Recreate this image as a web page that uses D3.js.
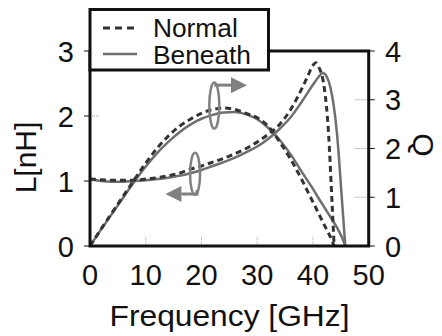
<!DOCTYPE html>
<html>
<head>
<meta charset="utf-8">
<script src="https://cdn.jsdelivr.net/npm/d3@7"></script>
<style>
  body { margin: 0; background: #fff; }
  svg { font-family: "Liberation Sans", Arial, sans-serif; }
</style>
</head>
<body>
<svg id="chart" width="442" height="336"></svg>
<script>
// data
var freqNormal = [0, 2, 4, 6, 8, 10, 12, 14, 16, 18, 20, 22, 24, 26, 28, 30, 32, 34, 36, 38, 39, 40, 40.5, 41, 42, 42.8, 43.4, 43.8];
var lNormal = [1.03, 1.02, 1.01, 1.01, 1.01, 1.03, 1.05, 1.08, 1.12, 1.18, 1.23, 1.29, 1.35, 1.42, 1.50, 1.60, 1.72, 1.87, 2.10, 2.42, 2.60, 2.78, 2.82, 2.76, 2.45, 1.73, 0.71, 0];
var qNormal = [0, 0.35, 0.69, 1.03, 1.37, 1.70, 2.00, 2.25, 2.45, 2.60, 2.72, 2.80, 2.83, 2.80, 2.72, 2.63, 2.45, 2.14, 1.78, 1.36, 1.13, 0.90, 0.79, 0.67, 0.44, 0.26, 0.12, 0];

var freqBeneath = [0, 2, 4, 6, 8, 10, 12, 14, 16, 18, 20, 22, 24, 26, 28, 30, 32, 34, 36, 38, 40, 41, 41.8, 42.5, 43.1, 44.3, 45.2, 45.8];
var lBeneath = [1.03, 1.00, 0.99, 0.99, 1.00, 1.01, 1.03, 1.05, 1.08, 1.12, 1.17, 1.23, 1.29, 1.36, 1.44, 1.53, 1.65, 1.80, 1.98, 2.22, 2.48, 2.60, 2.66, 2.60, 2.45, 1.74, 0.71, 0];
var qBeneath = [0, 0.34, 0.67, 1.00, 1.33, 1.63, 1.90, 2.13, 2.33, 2.49, 2.61, 2.69, 2.74, 2.75, 2.70, 2.60, 2.42, 2.18, 1.88, 1.52, 1.17, 0.98, 0.84, 0.71, 0.60, 0.38, 0.18, 0];

var xTicks = [0, 10, 20, 30, 40, 50];
var lTicks = [0, 1, 2, 3];
var qTicks = [0, 1, 2, 3, 4];
var legendLabels = ["Normal", "Beneath"];

drawChart();

function drawChart() {
    var svg = d3.select("#chart"),
        plot = {left: 90, right: 368.7, top: 51, bottom: 246};

    var x = d3.scaleLinear().domain([0, 50]).range([plot.left, plot.right]),
        yL = d3.scaleLinear().domain([0, 3]).range([plot.bottom, plot.top]),
        yQ = d3.scaleLinear().domain([0, 4]).range([plot.bottom, plot.top]);

    var lineL = d3.line()
        .x(function(d) { return x(d[0]); })
        .y(function(d) { return yL(d[1]); })
        .curve(d3.curveMonotoneX);
    var lineQ = d3.line()
        .x(function(d) { return x(d[0]); })
        .y(function(d) { return yQ(d[1]); })
        .curve(d3.curveMonotoneX);

    function zip(a, b) { return a.map(function(v, i) { return [v, b[i]]; }); }

    var gray = "#6f6f6f", dark = "#333", annot = "#808080";

    // inner dotted tick marks
    svg.append("g").selectAll("line")
        .data(lTicks.filter(function(t) { return t > 0 && t < 3; }))
        .enter().append("line")
        .attr("x1", plot.left).attr("x2", plot.left + 10)
        .attr("y1", function(d) { return yL(d); }).attr("y2", function(d) { return yL(d); })
        .attr("stroke", "#999").attr("stroke-width", 1).attr("stroke-dasharray", "1,1");
    svg.append("g").selectAll("line")
        .data(qTicks.filter(function(t) { return t > 0 && t < 4; }))
        .enter().append("line")
        .attr("x1", plot.right - 14).attr("x2", plot.right)
        .attr("y1", function(d) { return yQ(d); }).attr("y2", function(d) { return yQ(d); })
        .attr("stroke", "#999").attr("stroke-width", 1).attr("stroke-dasharray", "1,1");
    svg.append("g").selectAll("line")
        .data(xTicks.filter(function(t) { return t > 0 && t < 50; }))
        .enter().append("line")
        .attr("x1", function(d) { return x(d); }).attr("x2", function(d) { return x(d); })
        .attr("y1", plot.bottom).attr("y2", plot.bottom - 9)
        .attr("stroke", "#aaa").attr("stroke-width", 1).attr("stroke-dasharray", "1,1");

    // curves
    svg.append("path").datum(zip(freqBeneath, lBeneath)).attr("d", lineL)
        .attr("fill", "none").attr("stroke", gray).attr("stroke-width", 2.5);
    svg.append("path").datum(zip(freqBeneath, qBeneath)).attr("d", lineQ)
        .attr("fill", "none").attr("stroke", gray).attr("stroke-width", 2.5);
    svg.append("path").datum(zip(freqNormal, lNormal)).attr("d", lineL)
        .attr("fill", "none").attr("stroke", dark).attr("stroke-width", 3).attr("stroke-dasharray", "6,4");
    svg.append("path").datum(zip(freqNormal, qNormal)).attr("d", lineQ)
        .attr("fill", "none").attr("stroke", dark).attr("stroke-width", 3).attr("stroke-dasharray", "6,4");

    // annotations: ellipses and arrows
    var defs = svg.append("defs");
    defs.append("marker").attr("id", "head")
        .attr("viewBox", "0 0 10 10").attr("refX", 0).attr("refY", 5)
        .attr("markerUnits", "userSpaceOnUse")
        .attr("markerWidth", 24).attr("markerHeight", 16)
        .attr("orient", "auto")
      .append("path").attr("d", "M0,0L10,5L0,10Z").attr("fill", annot);

    svg.append("ellipse").attr("cx", x(22.3)).attr("cy", yQ(2.88)).attr("rx", 5).attr("ry", 23)
        .attr("fill", "none").attr("stroke", annot).attr("stroke-width", 2.5);
    svg.append("line").attr("x1", x(22.3)).attr("x2", x(25.3))
        .attr("y1", yQ(3.3)).attr("y2", yQ(3.3))
        .attr("stroke", annot).attr("stroke-width", 3).attr("marker-end", "url(#head)");

    svg.append("ellipse").attr("cx", x(18.85)).attr("cy", yL(1.11)).attr("rx", 5).attr("ry", 21)
        .attr("fill", "none").attr("stroke", annot).attr("stroke-width", 2.5);
    svg.append("path")
        .attr("d", "M" + x(19.2) + "," + yL(0.86) + "V" + yL(0.8) + "H" + x(16.4))
        .attr("fill", "none").attr("stroke", annot).attr("stroke-width", 3).attr("marker-end", "url(#head)");

    // frame
    svg.append("path")
        .attr("d", "M" + plot.left + "," + plot.top + "V" + plot.bottom + "H" + plot.right + "V" + plot.top + "H" + plot.left)
        .attr("fill", "none").attr("stroke", "#111").attr("stroke-width", 3);

    // outside ticks
    svg.append("g").selectAll("line").data(lTicks).enter().append("line")
        .attr("x1", plot.left - 6).attr("x2", plot.left)
        .attr("y1", function(d) { return yL(d); }).attr("y2", function(d) { return yL(d); })
        .attr("stroke", "#111").attr("stroke-width", 1);
    svg.append("g").selectAll("line").data(qTicks).enter().append("line")
        .attr("x1", plot.right).attr("x2", plot.right + 6)
        .attr("y1", function(d) { return yQ(d); }).attr("y2", function(d) { return yQ(d); })
        .attr("stroke", "#111").attr("stroke-width", 1);

    // tick labels
    svg.append("g").selectAll("text").data(xTicks).enter().append("text")
        .attr("x", function(d) { return x(d); }).attr("y", 285)
        .attr("text-anchor", "middle").attr("font-size", 29).attr("fill", "#111")
        .text(function(d) { return d; });
    svg.append("g").selectAll("text").data(lTicks).enter().append("text")
        .attr("x", 74).attr("y", function(d) { return yL(d) + 10.5; })
        .attr("text-anchor", "end").attr("font-size", 29).attr("fill", "#111")
        .text(function(d) { return d; });
    svg.append("g").selectAll("text").data(qTicks).enter().append("text")
        .attr("x", 385).attr("y", function(d) { return yQ(d) + 10.5; })
        .attr("text-anchor", "start").attr("font-size", 29).attr("fill", "#111")
        .text(function(d) { return d; });

    // axis titles
    svg.append("text").attr("x", 109.5).attr("y", 326)
        .attr("font-size", 29.5).attr("fill", "#111")
        .attr("textLength", 240).attr("lengthAdjust", "spacingAndGlyphs")
        .text("Frequency [GHz]");
    svg.append("text").attr("transform", "translate(35.5,157.5) rotate(-90)")
        .attr("text-anchor", "middle").attr("font-size", 30).attr("fill", "#111")
        .text("L[nH]");
    svg.append("text").attr("transform", "translate(413,145) rotate(90)")
        .attr("text-anchor", "middle").attr("font-size", 30).attr("fill", "#111")
        .text("Q");

    // legend
    var legend = svg.append("g");
    legend.append("rect").attr("x", 90).attr("y", 9.5).attr("width", 178.5).attr("height", 60.5)
        .attr("fill", "#fff").attr("stroke", "#111").attr("stroke-width", 3);
    legend.append("line").attr("x1", 103).attr("x2", 137).attr("y1", 28).attr("y2", 28)
        .attr("stroke", dark).attr("stroke-width", 3).attr("stroke-dasharray", "7,5");
    legend.append("line").attr("x1", 103).attr("x2", 137).attr("y1", 54).attr("y2", 54)
        .attr("stroke", gray).attr("stroke-width", 2.5);
    legend.selectAll("text").data(legendLabels).enter().append("text")
        .attr("x", 153).attr("y", function(d, i) { return 37 + i * 26.5; })
        .attr("font-size", 26.3).attr("fill", "#111")
        .text(function(d) { return d; });
}
</script>
</body>
</html>
